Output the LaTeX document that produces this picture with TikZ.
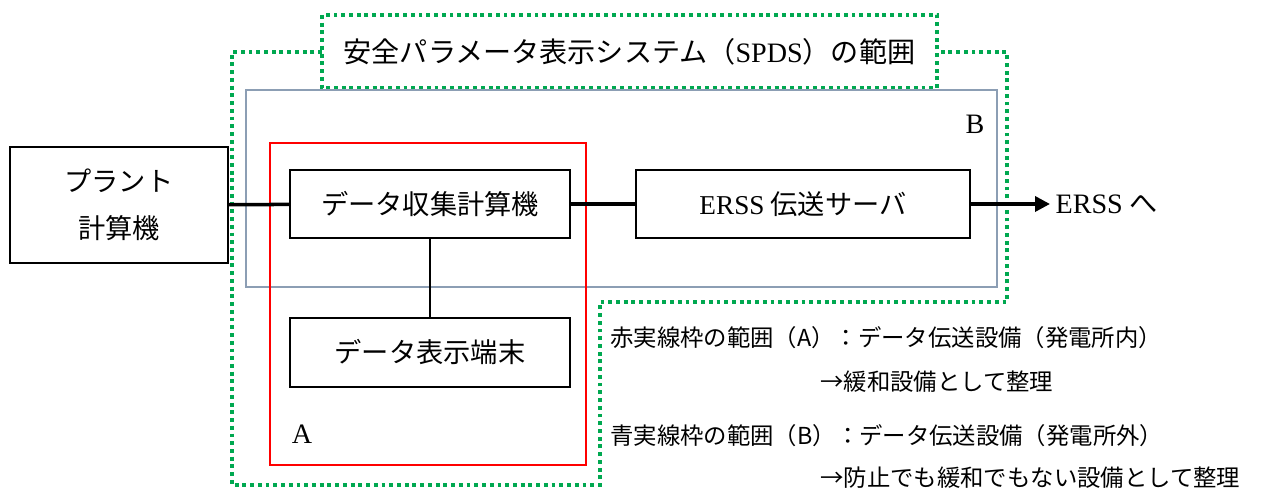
\documentclass[tikz,border=0pt]{standalone}
\usepackage{fontspec}
\setmainfont{Liberation Serif}
\newfontfamily\jpfont{Noto Sans CJK JP}
\usetikzlibrary{arrows.meta,positioning}
\definecolor{spdsgreen}{RGB}{0,168,80}
\definecolor{rangegrey}{RGB}{140,158,180}
\tikzset{
  unit/.style={draw=black, line width=0.8pt, inner sep=0pt, minimum height=1.36cm,
    font=\jpfont\fontsize{15.5}{27}\selectfont, align=center},
  link/.style={line width=2pt},
  spds/.style={draw=spdsgreen, line width=2.2pt, dash pattern=on 2.2pt off 2.2pt},
  rangelab/.style={inner sep=0pt, font=\fontsize{16}{18}\selectfont},
  note/.style={anchor=west, inner sep=0pt, font=\jpfont\fontsize{13.3}{15}\selectfont},
}
\begin{document}
\begin{tikzpicture}[x=0.02cm,y=-0.02cm]
\useasboundingbox (0,0) rectangle (1269,492);
% SPDS range (green dotted)
\draw[spds] (322,52) -- (232,52) -- (232,485) -- (600,485) -- (600,302)
  -- (1007,302) -- (1007,52) -- (937,52);
\draw[spds] (322,15) rectangle (937,88);
\node[inner sep=0pt, font=\fontsize{16}{18}\selectfont] (title) at (629.5,52)
  {{\jpfont 安全パラメータ表示システム（}SPDS{\jpfont ）の範囲}};
% range B (grey) and range A (red)
\draw[rangegrey, line width=0.8pt] (246,90) rectangle (997,287);
\node[rangelab] (labB) at (975,124) {B};
\draw[red, line width=0.7pt] (270,143) rectangle (586,465);
\node[rangelab] (labA) at (302,434) {A};
% units
\node[unit, minimum width=4.36cm, minimum height=2.32cm] (plant) at (119,205) {プラント\\計算機};
\node[unit, minimum width=5.6cm] (collect) at (430,204) {データ収集計算機};
\node[unit, minimum width=6.68cm] (erss) at (803,204) {{\fontspec{Liberation Serif}ERSS} 伝送サーバ};
\node[unit, minimum width=5.6cm, minimum height=1.38cm] (display) at (430,352.5) {データ表示端末};
\coordinate (out) at (1050,204);
\node[inner sep=0pt, anchor=west, right=3pt of out, font=\fontsize{16}{18}\selectfont] (erssto)
  {ERSS {\jpfont へ}};
% connections
\draw[link] (plant) -- (collect);
\draw[link] (collect) -- (erss);
\draw[line width=1.3pt] (collect) -- (display);
\draw[link, -{Triangle[length=0.3cm,width=0.3cm]}] (erss) -- (out);
% notes
\node[note] (noteA) at (610,338) {赤実線枠の範囲（A）：データ伝送設備（発電所内）};
\node[note] (noteA2) at (820,382) {→緩和設備として整理};
\node[note] (noteB) at (610,436) {青実線枠の範囲（B）：データ伝送設備（発電所外）};
\node[note] (noteB2) at (820,478) {→防止でも緩和でもない設備として整理};
\end{tikzpicture}
\end{document}
